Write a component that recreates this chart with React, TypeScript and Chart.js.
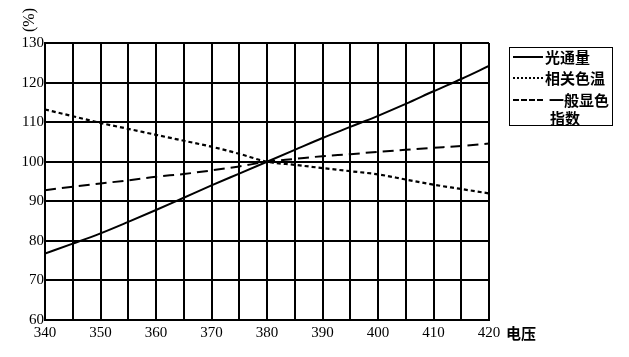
import React, { useEffect, useRef } from "react";
import { Chart, registerables } from "chart.js";

Chart.register(...registerables);

const voltages = [340, 345, 350, 355, 360, 365, 370, 375, 380, 385, 390, 395, 400, 405, 410, 415, 420];
const fluxValues = [76.8, 79.3, 81.9, 84.8, 87.8, 90.9, 94.0, 97.0, 100, 103.0, 106.0, 108.8, 111.6, 114.6, 117.8, 120.9, 124.2];
const colorTempValues = [113.2, 111.5, 109.8, 108.3, 106.8, 105.3, 103.8, 102.0, 100, 99.2, 98.4, 97.6, 96.8, 95.5, 94.2, 93.1, 92.0];
const criValues = [92.8, 93.7, 94.5, 95.3, 96.2, 96.9, 97.8, 98.8, 100, 100.7, 101.4, 101.9, 102.5, 103.0, 103.5, 104.0, 104.6];
const xMin = 340;
const xMax = 420;
const yMin = 60;
const yMax = 130;

const serif = "'Liberation Serif', 'DejaVu Serif', serif";
const cjk = "'Noto Sans CJK SC', sans-serif";

const extraText = {
  id: "extraText",
  afterDraw(chart: any) {
    const ctx = chart.ctx;
    ctx.save();
    ctx.fillStyle = "#000";
    ctx.font = `16px ${serif}`;
    ctx.translate(30, 20);
    ctx.rotate(-Math.PI / 2);
    ctx.textAlign = "center";
    ctx.textBaseline = "middle";
    ctx.fillText("(%)", 0, 0);
    ctx.restore();
    ctx.save();
    ctx.fillStyle = "#000";
    ctx.font = `bold 15px ${cjk}`;
    ctx.textAlign = "left";
    ctx.textBaseline = "middle";
    ctx.fillText("电压", 506, 333);
    ctx.restore();
  },
};

export default function App() {
  const ref = useRef<HTMLCanvasElement>(null);
  useEffect(() => {
    if (!ref.current) return;
    const toPts = (vals: number[]) => voltages.map((v, i) => ({ x: v, y: vals[i] }));
    const chart = new Chart(ref.current, {
      type: "line",
      data: {
        datasets: [
          { label: "光通量", data: toPts(fluxValues), borderColor: "#000", borderWidth: 2, pointRadius: 0, cubicInterpolationMode: "monotone" },
          { label: "相关色温", data: toPts(colorTempValues), borderColor: "#000", borderWidth: 2.2, borderDash: [4, 3], pointRadius: 0, cubicInterpolationMode: "monotone" },
          { label: "一般显色指数", data: toPts(criValues), borderColor: "#000", borderWidth: 2, borderDash: [11, 6], pointRadius: 0, cubicInterpolationMode: "monotone" },
        ],
      },
      options: {
        animation: false,
        responsive: false,
        maintainAspectRatio: false,
        layout: { padding: { left: 0, right: 140, top: 43, bottom: 0 } },
        plugins: { legend: { display: false }, tooltip: { enabled: false } },
        scales: {
          x: {
            type: "linear",
            min: xMin,
            max: xMax,
            afterFit: (s: any) => { s.height = 37; },
            afterBuildTicks: (s: any) => {
              const t = [];
              for (let v = xMin; v <= xMax; v += 5) t.push({ value: v });
              s.ticks = t;
            },
            ticks: {
              color: "#000",
              font: { family: serif, size: 15 },
              padding: 4,
              maxRotation: 0,
              autoSkip: false,
              callback: (v: any) => (Number(v) % 10 === 0 ? String(v) : ""),
            },
            grid: { color: "#000", lineWidth: 2, drawTicks: false },
            border: { color: "#000", width: 2 },
          },
          y: {
            min: yMin,
            max: yMax,
            afterFit: (s: any) => { s.width = 45; },
            ticks: {
              stepSize: 10,
              color: "#000",
              font: { family: serif, size: 15 },
              padding: 1,
            },
            grid: { color: "#000", lineWidth: 2, drawTicks: false },
            border: { color: "#000", width: 2 },
          },
        },
      },
      plugins: [extraText],
    } as any);
    return () => chart.destroy();
  }, []);

  const row: React.CSSProperties = { display: "flex", alignItems: "center", height: 21 };
  const lineStyle = (style: string): React.CSSProperties => ({
    width: 30,
    borderTop: `2px ${style} #000`,
    marginRight: 2,
  });
  return (
    <div style={{ position: "fixed", left: 0, top: 0, width: 629, height: 357, background: "#fff" }}>
      <canvas ref={ref} width={629} height={357} style={{ width: 629, height: 357 }} />
      <div
        style={{
          position: "absolute",
          left: 509,
          top: 47,
          width: 104,
          height: 79,
          border: "1.5px solid #000",
          fontFamily: cjk,
          fontWeight: 700,
          fontSize: 15,
          lineHeight: "18px",
          paddingLeft: 3,
          paddingTop: 0,
          boxSizing: "border-box",
        }}
      >
        <div style={{ ...row, marginTop: -2 }}><span style={lineStyle("solid")} />光通量</div>
        <div style={row}><span style={lineStyle("dotted")} />相关色温</div>
        <div style={{ ...row, marginTop: 1 }}><span style={{ ...lineStyle("dashed"), marginRight: 6 }} />一般显色</div>
        <div style={{ paddingLeft: 37, marginTop: -1 }}>指数</div>
      </div>
    </div>
  );
}
